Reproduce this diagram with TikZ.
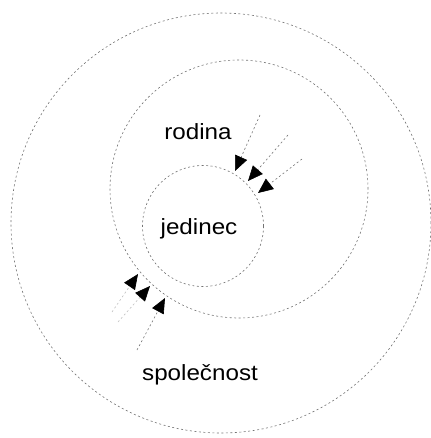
\documentclass[tikz,border=0pt]{standalone}
\usepackage{fontspec}
\setmainfont{Liberation Sans}
\usetikzlibrary{arrows.meta}
\begin{document}
\begin{tikzpicture}[x=1pt,y=-1pt,
  ring/.style={draw=black!55,line width=0.6pt,dash pattern=on 2pt off 2.5pt},
  flow/.style={draw=black!55,line width=0.6pt,dash pattern=on 2pt off 2.5pt,
    -{Triangle[length=15pt,width=13pt,color=black,fill=black]}},
  faint/.style={draw=black!25},
  lbl/.style={anchor=base,inner sep=0pt,font=\fontsize{22}{24}\selectfont}]
\useasboundingbox (0,0) rectangle (430,438);
% circles
\node[ring,circle,minimum size=420pt,inner sep=0pt] (spol) at (221,223) {};
\node[ring,circle,minimum size=258pt,inner sep=0pt] (rod) at (239,189) {};
\node[ring,circle,minimum size=121pt,inner sep=0pt] (jed) at (203,226) {};
% labels
\node[lbl] (trod) at (198,140) {\scalebox{1.1}[1]{rodina}};
\node[lbl] (tjed) at (199,234) {\scalebox{1.1}[1]{jedinec}};
\node[lbl] (tspol) at (200,380) {\scalebox{1.1}[1]{společnost}};
% upper arrows
\coordinate (a1s) at (260,115); \coordinate (a1e) at (235,171);
\coordinate (a2s) at (288,135); \coordinate (a2e) at (248,181);
\coordinate (a3s) at (302,159); \coordinate (a3e) at (258,193);
\draw[flow] (a1s) -- (a1e);
\draw[flow] (a2s) -- (a2e);
\draw[flow] (a3s) -- (a3e);
% lower arrows
\coordinate (b1s) at (112,312); \coordinate (b1e) at (138,274);
\coordinate (b2s) at (118,322); \coordinate (b2e) at (150,286);
\coordinate (b3s) at (137,350); \coordinate (b3e) at (165,298);
\draw[flow,faint] (b1s) -- (b1e);
\draw[flow,faint] (b2s) -- (b2e);
\draw[flow] (b3s) -- (b3e);
\end{tikzpicture}
\end{document}
